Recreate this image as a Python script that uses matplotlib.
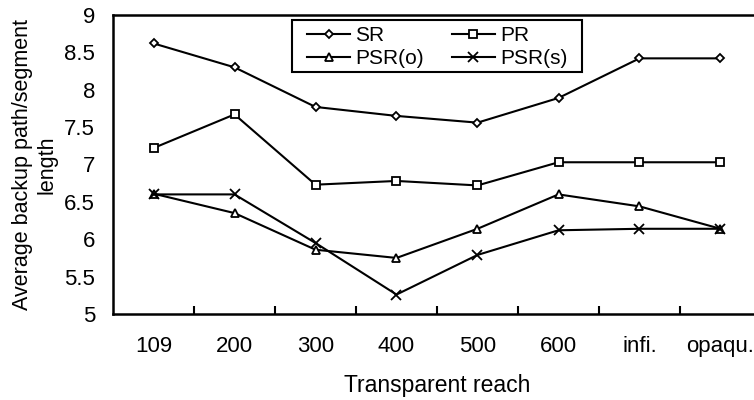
import matplotlib
matplotlib.use('Agg')
import matplotlib.pyplot as plt
from matplotlib.patches import Rectangle

plt.rcParams['font.family'] = ['Liberation Sans', 'DejaVu Sans']

# data
categories = ['109', '200', '300', '400', '500', '600', 'infi.', 'opaqu.']
sr = [8.62, 8.30, 7.77, 7.65, 7.56, 7.89, 8.42, 8.42]
pr = [7.22, 7.67, 6.73, 6.78, 6.72, 7.03, 7.03, 7.03]
psr_o = [6.61, 6.35, 5.86, 5.75, 6.14, 6.60, 6.44, 6.14]
psr_s = [6.60, 6.60, 5.95, 5.26, 5.79, 6.12, 6.14, 6.14]

W, H = 754, 400
fig = plt.figure(figsize=(W / 100, H / 100), dpi=100)
ax = fig.add_axes([113/W, 86/H, 648/W, 299/H])

x = range(len(categories))
kw = dict(color='black', lw=1.5, mfc='white', mec='black', mew=1.3)
l1, = ax.plot(x, sr, marker='D', ms=4.5, label='SR', **kw)
l2, = ax.plot(x, pr, marker='s', ms=6, label='PR', **kw)
l3, = ax.plot(x, psr_o, marker='^', ms=6, label='PSR(o)', **kw)
l4, = ax.plot(x, psr_s, marker='x', ms=6.5, label='PSR(s)', **kw)

ax.set_xlim(-0.5, 7.5)
ax.set_ylim(5, 9)
ax.set_yticks([5, 5.5, 6, 6.5, 7, 7.5, 8, 8.5, 9])
ax.set_yticklabels(['5', '5.5', '6', '6.5', '7', '7.5', '8', '8.5', '9'])
ax.set_xticks(list(x))
ax.set_xticklabels(categories)
ax.set_xticks([i + 0.5 for i in range(7)], minor=True)
ax.tick_params(axis='x', which='major', length=0, pad=16, labelsize=16)
ax.tick_params(axis='x', which='minor', direction='in', length=6, width=1.5)
ax.tick_params(axis='y', length=0, pad=13, labelsize=16)

for s in ['left', 'bottom', 'top']:
    ax.spines[s].set_linewidth(1.8)
ax.spines['right'].set_visible(False)

ax.set_xlabel('Transparent reach', fontsize=16.5, labelpad=12)
ax.set_ylabel('Average backup path/segment\nlength', fontsize=15.5,
              linespacing=1.2)
ax.yaxis.set_label_coords(-0.086, 0.5)

# legend box drawn by hand (wider side padding than matplotlib gives)
fig.add_artist(Rectangle((292/W, 1 - 72/H), 290/W, 52/H, transform=fig.transFigure,
                         fc='white', ec='black', lw=1.5, zorder=4))
leg = fig.legend([l1, l3, l2, l4], ['SR', 'PSR(o)', 'PR', 'PSR(s)'], ncol=2,
                 loc='upper left', bbox_to_anchor=(307/W, 1 - 26/H),
                 borderaxespad=0, borderpad=0, fontsize=15, handlelength=2.07,
                 handletextpad=0.24, columnspacing=1.35, labelspacing=0.2,
                 frameon=False)
leg.set_zorder(5)

fig.savefig('out.png', dpi=100)
